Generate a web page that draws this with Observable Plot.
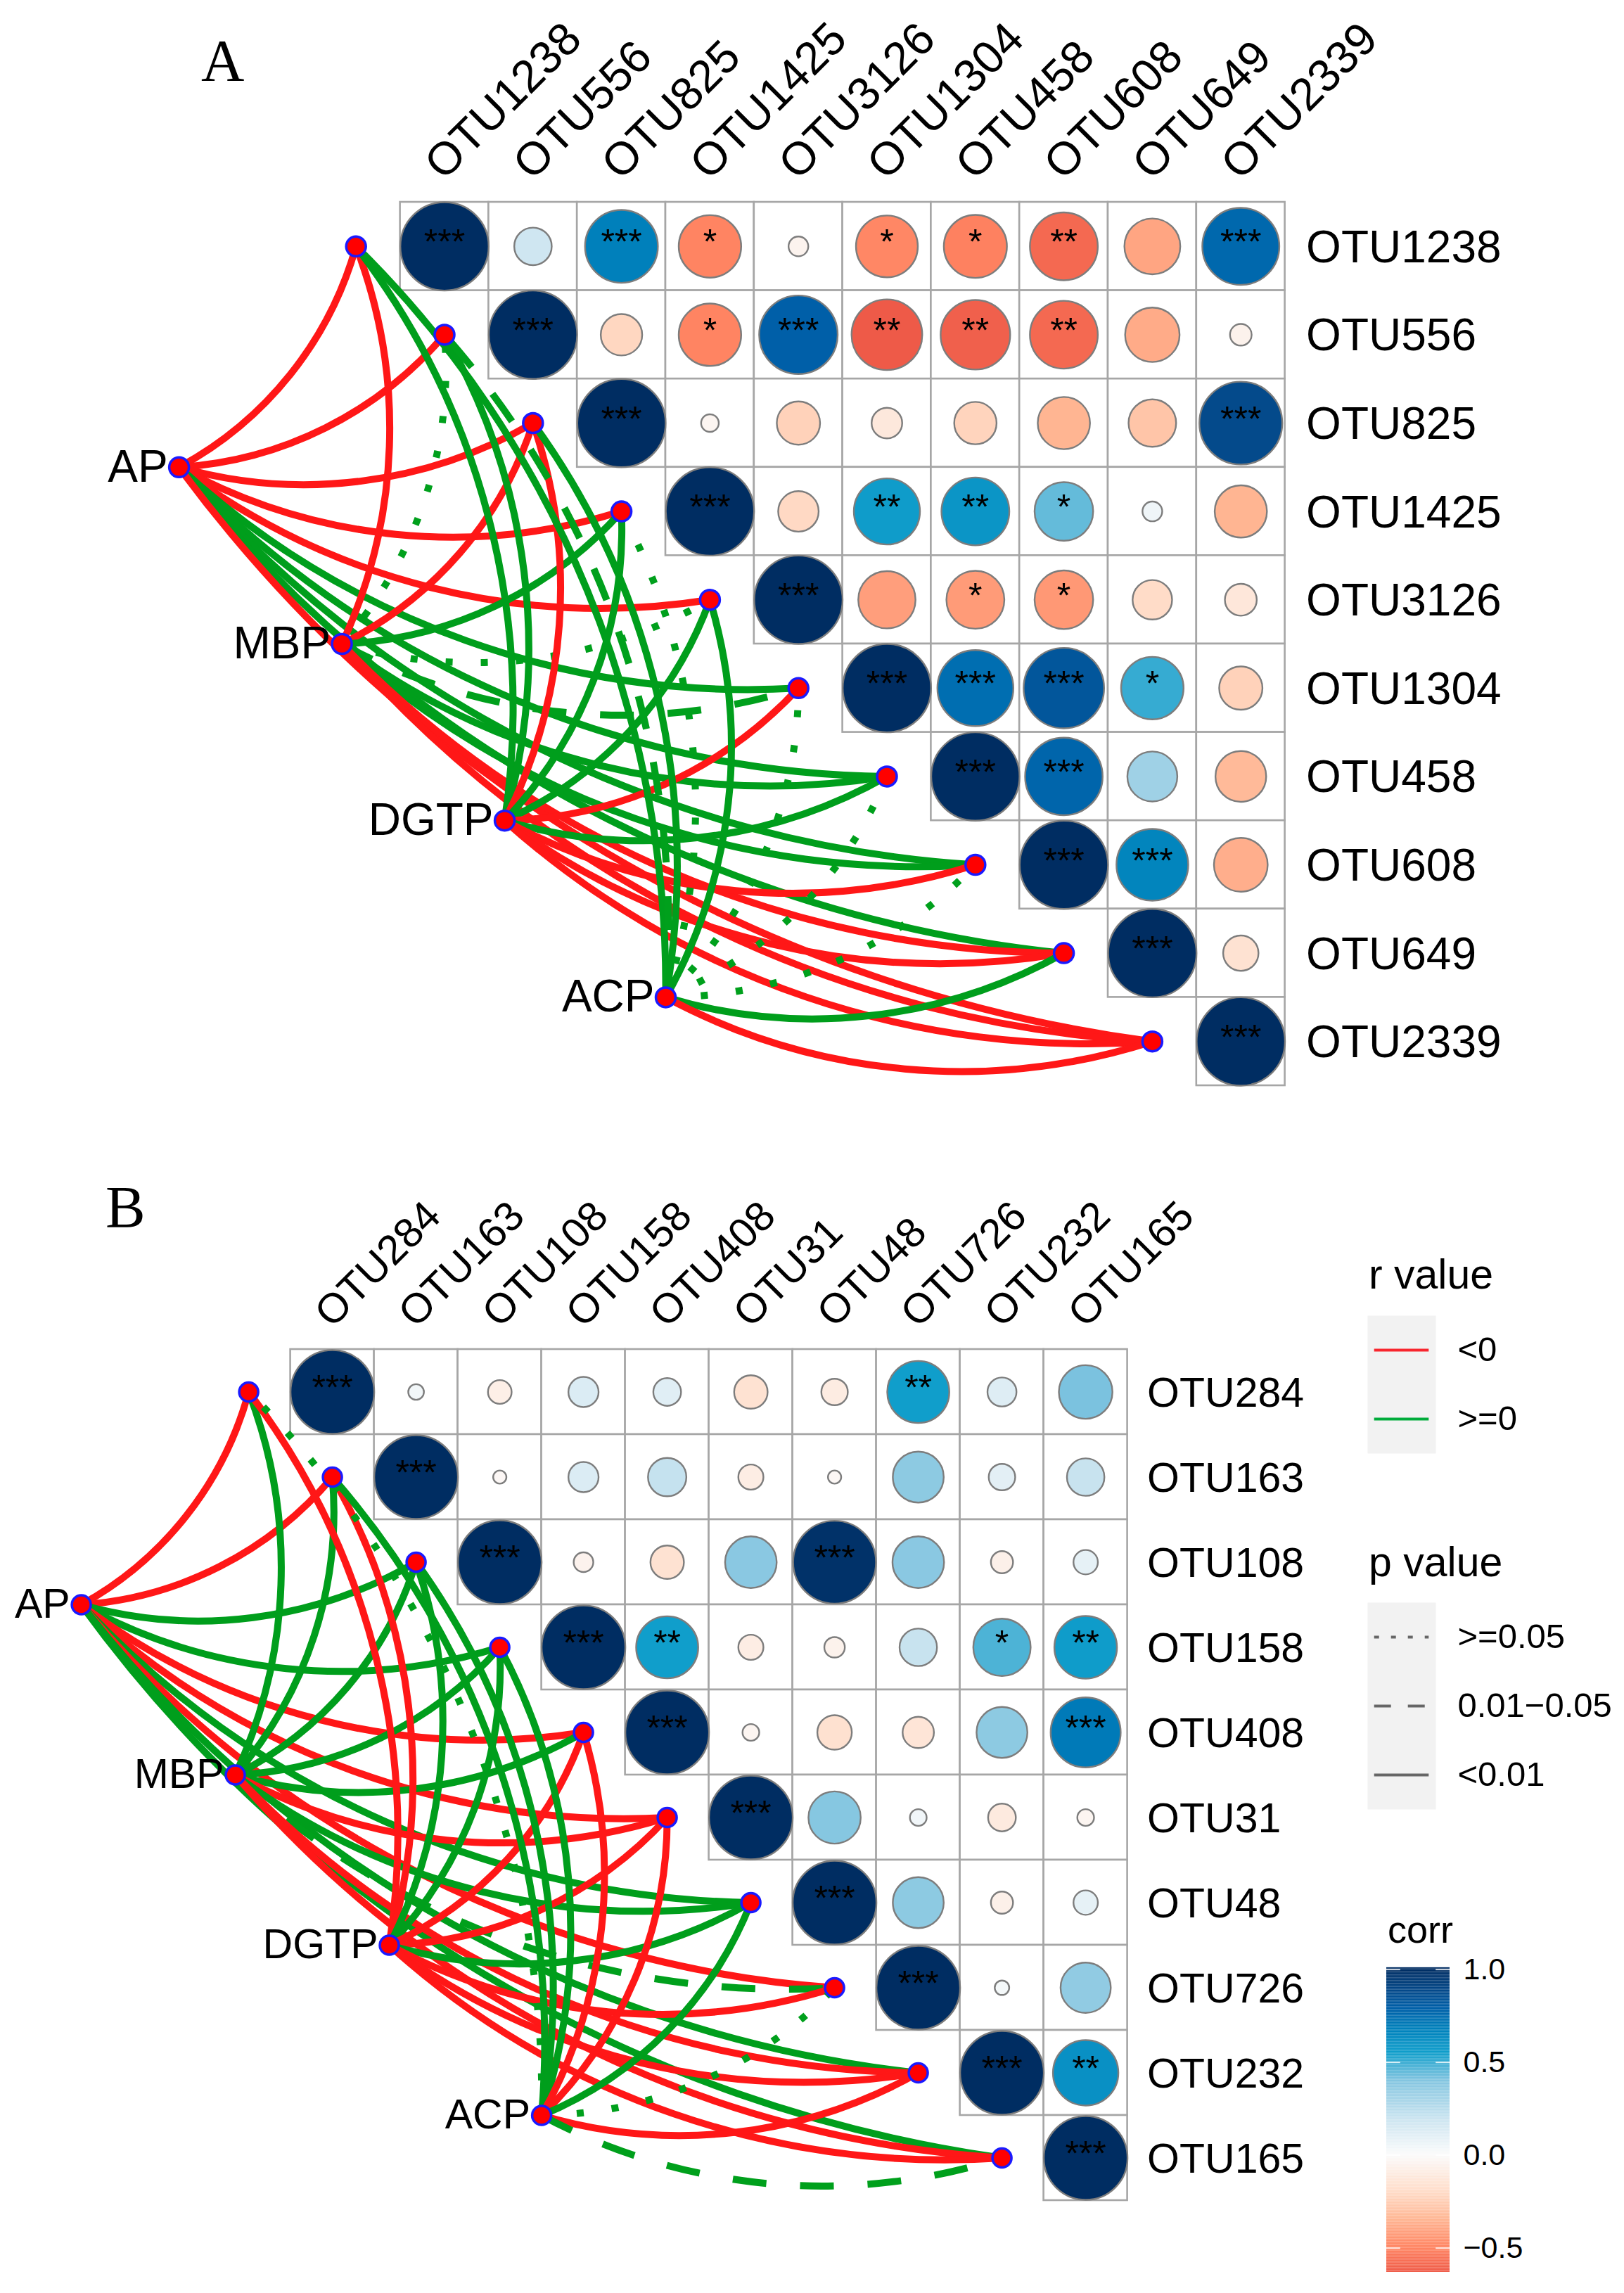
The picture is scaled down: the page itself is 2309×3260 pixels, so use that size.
<!DOCTYPE html>
<html><head><meta charset="utf-8">
<script src="https://cdn.jsdelivr.net/npm/d3@7"></script>
<script src="https://cdn.jsdelivr.net/npm/@observablehq/plot@0.6"></script>
<style>
html,body{margin:0;padding:0;background:#fff;overflow:hidden}
#root{position:relative;width:2309px;height:3260px;font-family:"Liberation Sans",sans-serif;color:#000}
#root svg{position:absolute;background:none;overflow:visible;max-width:none}
.t{position:absolute;white-space:nowrap;line-height:1}
</style></head><body><div id="root"></div>
<script>
const otuA = ["OTU1238","OTU556","OTU825","OTU1425","OTU3126","OTU1304","OTU458","OTU608","OTU649","OTU2339"];
const otuB = ["OTU284","OTU163","OTU108","OTU158","OTU408","OTU31","OTU48","OTU726","OTU232","OTU165"];
const envs = ["AP","MBP","DGTP","ACP"];
const envCol = [-3,-1.16,0.68,2.5];
const envRow = [2.5,4.5,6.5,8.5];

// upper triangle, each row starts on the diagonal
const corrA = [
 [1,0.18,0.68,-0.50,-0.05,-0.49,-0.51,-0.59,-0.40,0.76],
 [1,-0.22,-0.50,0.79,-0.64,-0.62,-0.59,-0.38,-0.06],
 [1,-0.04,-0.24,-0.12,-0.23,-0.35,-0.29,0.88],
 [1,-0.21,0.56,0.59,0.44,0.05,-0.35],
 [1,-0.42,-0.43,-0.44,-0.20,-0.13],
 [1,0.74,0.83,0.50,-0.24],
 [1,0.77,0.32,-0.33],
 [1,0.66,-0.37],
 [1,-0.16],
 [1]];
const starsA = [
 ["***","","***","*","","*","*","**","","***"],
 ["***","","*","***","**","**","**","",""],
 ["***","","","","","","","***"],
 ["***","","**","**","*","",""],
 ["***","","*","*","",""],
 ["***","***","***","*",""],
 ["***","***","",""],
 ["***","***",""],
 ["***",""],
 ["***"]];
const corrB = [
 [1,0.035,-0.08,0.13,0.11,-0.16,-0.10,0.55,0.12,0.41],
 [1,-0.025,0.13,0.21,-0.09,-0.025,0.37,0.10,0.20],
 [1,-0.055,-0.16,0.38,0.98,0.38,-0.07,0.085],
 [1,0.55,-0.09,-0.06,0.20,0.47,0.56],
 [1,-0.04,-0.17,-0.14,0.37,0.70],
 [1,0.39,0.04,-0.11,-0.04],
 [1,0.37,-0.07,0.085],
 [1,0.03,0.36],
 [1,0.61],
 [1]];
const starsB = [
 ["***","","","","","","","**","",""],
 ["***","","","","","","","",""],
 ["***","","","","***","","",""],
 ["***","**","","","","*","**"],
 ["***","","","","","***"],
 ["***","","","",""],
 ["***","","",""],
 ["***","",""],
 ["***","**"],
 ["***"]];

// R = r<0, p<0.01; G = r>=0, p<0.01; D = r>=0, 0.01-0.05; O = r>=0, p>=0.05
const linksA = {
 AP:  ["R","R","R","R","R","G","G","G","G","R"],
 MBP: ["R","O","R","G","O","D","G","G","R","R"],
 DGTP:["G","G","R","G","G","R","G","R","R","R"],
 ACP: ["G","D","G","O","G","O","O","O","G","R"]};
const linksB = {
 AP:  ["R","R","G","G","R","R","G","R","G","G"],
 MBP: ["G","G","G","G","G","R","G","D","R","R"],
 DGTP:["R","R","G","G","R","R","G","R","R","R"],
 ACP: ["O","G","G","G","R","R","G","O","R","D"]};

const rLegend = ["<0",">=0"];
const pLegend = [">=0.05","0.01\u22120.05","<0.01"];
const corrTicks = [1,0.5,0,-0.5];
const corrStops = [-1,-0.64,-0.5,-0.35,-0.2,0,0.18,0.4,0.55,0.68,0.79,0.88,1];
const corrColors = ["#c8352c","#ee5a48","#ff8462","#ffb592","#ffdcc8","#fbfbfb","#cfe6f1","#83c5e0","#109ecb","#0080bb","#005fa8","#044a8b","#002d62"];
const linkColor = {R:"#ff1717",G:"#009e1c",D:"#00a01c",O:"#00a01c"};
const linkDash = {R:null,G:null,D:"48,48",O:"10,40"};

const colorScale = {type:"linear",domain:corrStops,range:corrColors,clamp:true};
const FONT = "Liberation Sans";
const root = document.getElementById("root");

function panel(cfg){
  const {names,corr,stars,links,W,H,left,top,cw,ch,topPx,labelSize,rightSize,envSize,topDx,topDy,dot} = cfg;
  const cells = corr.flatMap((row,i)=>row.map((v,k)=>({row:i,col:i+k,v,s:stars[i][k]})));
  const nodes = names.map((n,i)=>({name:n,col:i-1,row:i}));
  const envNodes = envs.map((e,i)=>({name:e,col:envCol[i],row:envRow[i]}));
  const edges = envs.flatMap((e,a)=>links[e].map((c,b)=>({x1:envCol[a],y1:envRow[a],x2:b-1,y2:b,c})));
  const svg = Plot.plot({
    width:W,height:H,margin:0,
    x:{domain:[(0-left)/cw-0.5,(W-left)/cw-0.5],range:[0,W],axis:null},
    y:{domain:[(0-top)/ch-0.5,(H-top)/ch-0.5],range:[0,H],axis:null},
    r:{type:"sqrt",domain:[0,1],range:[0,Math.min(cw,ch)/2]},
    color:colorScale,
    style:{position:"absolute",left:"0px",top:topPx+"px",fontFamily:FONT,background:"none",overflow:"visible"},
    marks:[
      Plot.rect(cells,{x1:d=>d.col-0.5,x2:d=>d.col+0.5,y1:d=>d.row-0.5,y2:d=>d.row+0.5,fill:"white",stroke:"#a6a6a6",strokeWidth:2.6}),
      Plot.dot(cells,{x:"col",y:"row",r:d=>Math.abs(d.v),fill:"v",stroke:"#7d7d7d",strokeWidth:2.4}),
      Plot.text(cells.filter(d=>d.s),{x:"col",y:"row",text:"s",fontSize:50,fill:"#000",lineAnchor:"middle",dy:-5}),
      ...edges.map(e=>Plot.arrow([e],{x1:"x1",y1:"y1",x2:"x2",y2:"y2",bend:-23,headLength:0,
        stroke:linkColor[e.c],strokeWidth:10,strokeLinecap:"butt",strokeDasharray:linkDash[e.c]||undefined})),
      Plot.dot(nodes.concat(envNodes),{x:"col",y:"row",r:dot,fill:"#ff0000",stroke:"#1a1aff",strokeWidth:3.5}),
      Plot.text(envNodes,{x:"col",y:"row",text:"name",textAnchor:"end",dx:-16,fontSize:envSize,fill:"#000",lineAnchor:"middle"}),
      Plot.text(names.map((n,i)=>({n,i})),{x:"i",y:()=>-0.5,text:"n",rotate:-45,textAnchor:"start",lineAnchor:"middle",dx:topDx,dy:topDy,fontSize:labelSize,fill:"#000"}),
      Plot.text(names.map((n,i)=>({n,i})),{x:()=>9.5,y:"i",text:"n",textAnchor:"start",lineAnchor:"middle",dx:cfg.rightDx,dy:2,fontSize:rightSize,fill:"#000"})
    ]});
  root.appendChild(svg);
}

panel({names:otuA,corr:corrA,stars:starsA,links:linksA,W:2309,H:1620,left:568.6,top:287,cw:125.8,ch:125.6,topPx:0,labelSize:65,rightSize:64,envSize:64,topDx:-16,topDy:-44,rightDx:30,dot:14});
panel({names:otuB,corr:corrB,stars:starsB,links:linksB,W:2309,H:1640,left:412.6,top:298,cw:119,ch:121,topPx:1620,labelSize:59,rightSize:59,envSize:59,topDx:-14,topDy:-42,rightDx:28,dot:13.5});

function addText(txt,x,base,size,fam){
  const d=document.createElement("div");d.className="t";d.textContent=txt;
  d.style.cssText=`left:${x}px;top:${base-size*0.89}px;font-size:${size}px;font-family:"${fam||FONT}"`;
  root.appendChild(d);
}
addText("A",286,120,85,"Liberation Serif");
addText("B",150,1750,85,"Liberation Serif");
addText("r value",1946,1836,59);
addText("p value",1946,2245,59);
addText("corr",1973,2764,54);

function key(labels,colors,dashes,topPx,h){
  const inset = h/(labels.length*2);
  root.appendChild(Plot.plot({
    width:400,height:h,marginLeft:0,marginRight:303,marginTop:0,marginBottom:0,
    x:{domain:[0,1],axis:null},
    y:{type:"point",domain:labels,padding:0,range:[inset,h-inset],axis:null},
    style:{position:"absolute",left:"1944px",top:topPx+"px",fontFamily:FONT,background:"none",overflow:"visible"},
    marks:[
      Plot.frame({fill:"#f2f2f2",stroke:"none"}),
      ...labels.map((l,i)=>Plot.ruleY([l],{x1:()=>0.1,x2:()=>0.9,stroke:colors[i],strokeWidth:4,strokeDasharray:dashes[i]})),
      Plot.axisY({anchor:"right",tickSize:0,tickPadding:31,fontSize:49,fill:"#000",domain:labels,label:null})
    ]}));
}
key(rLegend,["#f8262e","#00ab3a"],[null,null],1870,196);
key(pLegend,["#666","#666","#666"],["7,17","24,24",null],2278,294);

const strips = d3.range(-0.63,1.01,0.005);
root.appendChild(Plot.plot({
  width:297,height:433,marginLeft:0,marginRight:207,marginTop:0,marginBottom:0,
  x:{domain:[0,1],axis:null},
  y:{domain:[-0.63,1.01],axis:null},
  color:colorScale,
  style:{position:"absolute",left:"1971px",top:"2797px",fontFamily:FONT,background:"none",overflow:"visible"},
  marks:[
    Plot.rect(strips,{x1:()=>0,x2:()=>1,y1:d=>d,y2:d=>d+0.0055,fill:d=>d}),
    Plot.ruleY(corrTicks,{x1:()=>0,x2:()=>0.22,stroke:"white",strokeWidth:2,strokeOpacity:0.8}),
    Plot.ruleY(corrTicks,{x1:()=>0.78,x2:()=>1,stroke:"white",strokeWidth:2,strokeOpacity:0.8}),
    Plot.axisY(corrTicks,{anchor:"right",tickSize:0,tickPadding:19,fontSize:43,fill:"#000",tickFormat:d3.format(".1f"),label:null})
  ]}));
</script></body></html>
